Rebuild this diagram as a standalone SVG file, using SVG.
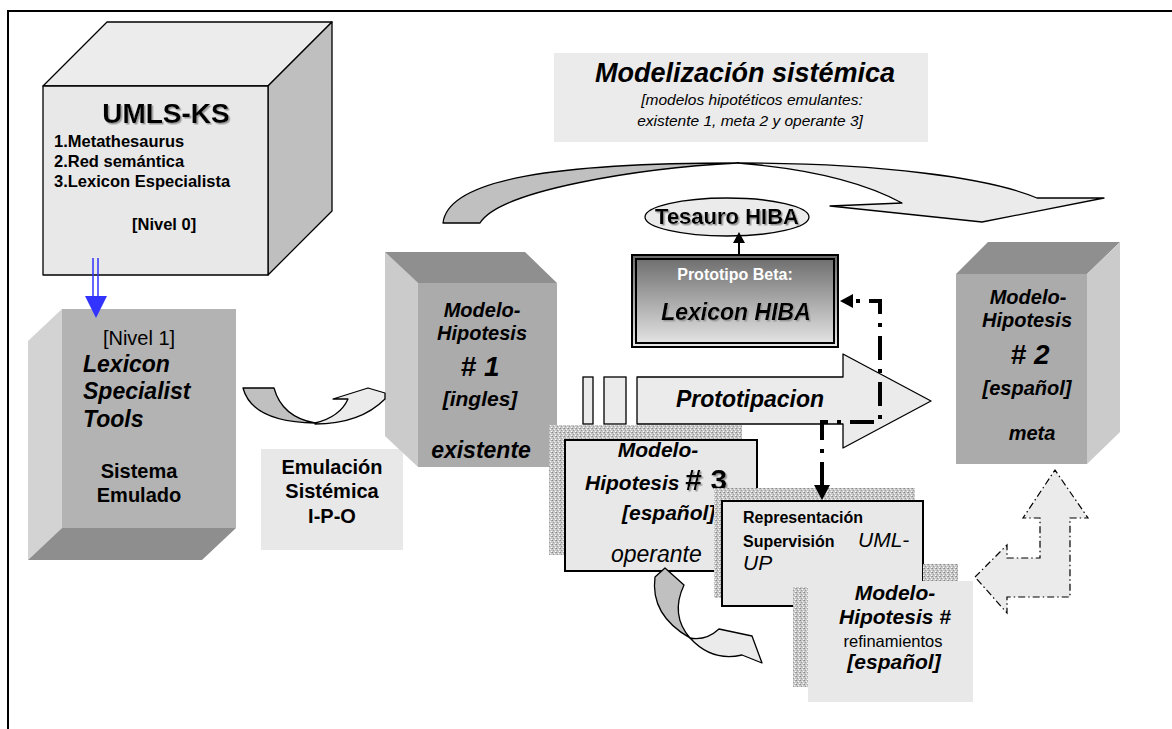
<svg xmlns="http://www.w3.org/2000/svg" width="1172" height="729" viewBox="0 0 1172 729">
<style>
.t{font-family:"Liberation Sans",Arial,sans-serif;fill:#000}
.b{font-weight:bold}
.i{font-style:italic}
.m{text-anchor:middle}
.ol{stroke:#000;stroke-width:1.3;stroke-linejoin:round}
.dk{fill:#c0c0c0}
.lt{fill:#ebebeb}
</style>
<defs>
<pattern id="stip" width="4" height="4" patternUnits="userSpaceOnUse">
<rect width="4" height="4" fill="#c8c8c8"/>
<rect x="0" y="0" width="1" height="1" fill="#8a8a8a"/>
<rect x="2" y="1" width="1" height="1" fill="#f4f4f4"/>
<rect x="1" y="2" width="1" height="1" fill="#9a9a9a"/>
<rect x="3" y="3" width="1" height="1" fill="#ffffff"/>
<rect x="3" y="0" width="1" height="1" fill="#a8a8a8"/>
</pattern>
<linearGradient id="gBeta" x1="0" y1="0" x2="0" y2="1">
<stop offset="0" stop-color="#6a6a6a"/>
<stop offset="1" stop-color="#e8e8e8"/>
</linearGradient>
<filter id="sh" x="-10%" y="-10%" width="130%" height="140%">
<feDropShadow dx="1.5" dy="1.5" stdDeviation="0.4" flood-color="#999"/>
</filter>
</defs>
<rect width="1172" height="729" fill="#fff"/>
<rect x="8" y="11" width="1180" height="730" fill="none" stroke="#000" stroke-width="2"/>

<g id="title">
<rect x="554" y="53" width="374" height="89" fill="#ebebeb"/>
<text class="t b i m" x="745" y="82" font-size="27">Modelización sistémica</text>
<text class="t i m" x="752" y="105" font-size="15.5">[modelos hipotéticos emulantes:</text>
<text class="t i m" x="750" y="126" font-size="15.5">existente 1, meta 2 y operante 3]</text>
</g>

<g id="umls">
<polygon points="43,86 107,22 332,22 268,86" fill="#ececec" class="ol"/>
<polygon points="268,86 332,22 332,211 268,275" fill="#bfbfbf" class="ol"/>
<rect x="43" y="86" width="225" height="189" fill="#e8e8e8" class="ol"/>
<text class="t b m" x="166" y="123" font-size="28" filter="url(#sh)">UMLS-KS</text>
<text class="t b" x="54" y="147" font-size="16.5">1.Metathesaurus</text>
<text class="t b" x="54" y="167" font-size="16.5">2.Red semántica</text>
<text class="t b" x="54" y="187" font-size="16.5">3.Lexicon Especialista</text>
<text class="t b" x="132" y="230" font-size="16.5">[Nivel 0]</text>
</g>

<g id="lexicon-tools">
<polygon points="28,341 62,309 62,528 28,560" fill="#d3d3d3"/>
<polygon points="62,528 236,528 202,560 28,560" fill="#8e8e8e"/>
<rect x="62" y="309" width="174" height="219" fill="#b3b3b3"/>
<text class="t m" x="139" y="345" font-size="20">[Nivel 1]</text>
<text class="t b i" x="83" y="372" font-size="23">Lexicon</text>
<text class="t b i" x="83" y="399" font-size="23">Specialist</text>
<text class="t b i" x="83" y="427" font-size="23">Tools</text>
<text class="t b m" x="139" y="478" font-size="20">Sistema</text>
<text class="t b m" x="139" y="502" font-size="20">Emulado</text>
</g>

<g id="emulacion">
<rect x="261" y="449" width="142" height="101" fill="#e8e8e8"/>
<text class="t b m" x="332" y="474" font-size="20">Emulación</text>
<text class="t b m" x="332" y="498" font-size="20">Sistémica</text>
<text class="t b m" x="332" y="523" font-size="20">I-P-O</text>
</g>

<g id="modelo1">
<polygon points="385,252 418,283 418,467 385,436" fill="#cbcbcb"/>
<polygon points="385,252 525,252 557,283 418,283" fill="#8f8f8f"/>
<rect x="418" y="283" width="139" height="184" fill="#ababab"/>
<text class="t b i m" x="482" y="317" font-size="20">Modelo-</text>
<text class="t b i m" x="482" y="340" font-size="20">Hipotesis</text>
<text class="t b i m" x="480" y="376" font-size="28">#&#160;1</text>
<text class="t b i m" x="480" y="406" font-size="21">[ingles]</text>
<text class="t b i m" x="481" y="458" font-size="23">existente</text>
</g>

<g id="tesauro">
<ellipse cx="727" cy="217" rx="82" ry="19" fill="#ebebeb" stroke="#000" stroke-width="1.3"/>
<text class="t b m" x="727" y="224" font-size="22" filter="url(#sh)">Tesauro HIBA</text>
</g>

<g id="prototipo-beta">
<rect x="632" y="255" width="206" height="92" fill="url(#gBeta)" stroke="#000" stroke-width="2"/>
<rect x="636" y="259" width="198" height="84" fill="none" stroke="#000" stroke-width="2"/>
<text class="t b m" x="735" y="280" font-size="16" style="fill:#fff">Prototipo Beta:</text>
<text class="t b i m" x="736" y="320" font-size="23" filter="url(#sh)">Lexicon HIBA</text>
</g>

<g id="prototipacion">
<rect x="583" y="377" width="10" height="47" fill="#ebebeb" stroke="#000" stroke-width="1.3"/>
<rect x="604" y="377" width="22" height="47" fill="#ebebeb" stroke="#000" stroke-width="1.3"/>
<polygon points="637,377 843,377 843,354 931,401 843,448 843,424 637,424" fill="#ebebeb" class="ol"/>
<text class="t b i m" x="750" y="407" font-size="23">Prototipacion</text>
</g>

<g id="modelo2">
<polygon points="956,274 988,242 1120,242 1087,274" fill="#8f8f8f"/>
<polygon points="1087,274 1120,242 1120,432 1087,464" fill="#cbcbcb"/>
<rect x="956" y="274" width="131" height="190" fill="#ababab"/>
<text class="t b i m" x="1028" y="304" font-size="20">Modelo-</text>
<text class="t b i m" x="1027" y="327" font-size="20">Hipotesis</text>
<text class="t b i m" x="1030" y="364" font-size="28">#&#160;2</text>
<text class="t b i m" x="1027" y="395" font-size="20">[español]</text>
<text class="t b i m" x="1032" y="440" font-size="20">meta</text>
</g>

<g id="modelo3">
<rect x="549" y="425" width="193" height="130" fill="url(#stip)"/>
<rect x="565" y="440" width="192" height="131" fill="#e8e8e8" stroke="#000" stroke-width="2"/>
<text class="t b i m" x="658" y="457" font-size="21">Modelo-</text>
<text class="t b i" x="585" y="490" font-size="21">Hipotesis <tspan font-style="normal" font-size="30" filter="url(#sh)">#&#160;3</tspan></text>
<text class="t b i" x="622" y="520" font-size="21">[español]</text>
<text class="t i" x="611" y="562" font-size="23">operante</text>
</g>

<g id="representacion">
<rect x="714" y="488" width="201" height="110" fill="url(#stip)"/>
<rect x="722" y="501" width="201" height="105" fill="#e8e8e8" stroke="#000" stroke-width="2"/>
<text class="t b" x="743" y="523" font-size="16">Representación</text>
<text class="t b" x="743" y="547" font-size="16">Supervisión</text>
<text class="t i" x="858" y="547" font-size="21">UML-</text>
<text class="t i" x="743" y="570" font-size="21">UP</text>
</g>

<g id="refinamientos">
<rect x="923" y="564" width="35" height="17" fill="url(#stip)"/>
<rect x="793" y="587" width="15" height="100" fill="url(#stip)"/>
<rect x="808" y="581" width="165" height="121" fill="#e8e8e8"/>
<text class="t b i m" x="895" y="600" font-size="21">Modelo-</text>
<text class="t b i m" x="895" y="624" font-size="21">Hipotesis #</text>
<text class="t m" x="893" y="647" font-size="16.5">refinamientos</text>
<text class="t b i m" x="894" y="669" font-size="21">[español]</text>
</g>

<g id="connectors">
<path d="M443,223 C448,178 560,163 738,163 C640,168 500,190 480,223 Z" class="dk ol"/>
<path d="M738,163 C880,163 990,178 1037,198 L1104,198 L982,222 L830,206 L902,203 C860,180 800,168 738,163 Z" class="lt ol"/>
<path d="M243,388 L274,388 Q282,417 315,423 Q252,422 243,388 Z" class="dk ol"/>
<path d="M315,423 Q340,417 348,399 L333,399 L368,388 L385,393 L385,399 Q360,424 315,424 Z" class="lt ol"/>
<path d="M655,577 L665,568 L684,585 Q670,615 690,638 Q650,615 655,577 Z" class="dk ol"/>
<path d="M690,638 Q706,641 719,629 L752,636 L762,663 L742,655 Q712,662 690,638 Z" class="lt ol"/>
<polygon points="975,577 1007,545 1007,558 1040,558 1040,518 1023,518 1055,470 1088,518 1070,518 1070,597 1007,597 1007,613" fill="#ebebeb" stroke="#000" stroke-width="1.2" stroke-dasharray="7,3,1.5,3"/>
<g stroke="#3333ff" stroke-width="1.5">
<line x1="93" y1="258" x2="93" y2="298"/>
<line x1="98" y1="258" x2="98" y2="298"/>
</g>
<polygon points="85,296 107,296 96,318" fill="#3333ff"/>
<line x1="739" y1="255" x2="739" y2="242" stroke="#000" stroke-width="2"/>
<polygon points="733,243 745,243 739,232" fill="#000"/>
<path d="M822,486 L822,422 L880,422 L880,301 L852,301" fill="none" stroke="#000" stroke-width="4" stroke-dasharray="24,9,4,9"/>
<polygon points="840,301 853,294 853,308" fill="#000"/>
<polygon points="814,485 830,485 822,500" fill="#000"/>
</g>
</svg>
